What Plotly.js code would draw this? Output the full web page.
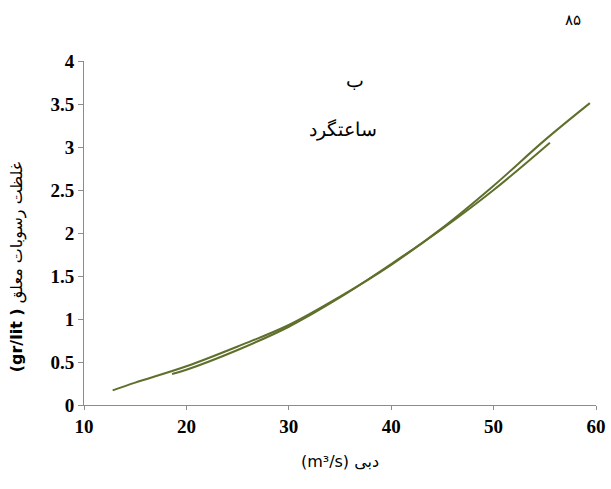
<!DOCTYPE html>
<html>
<head>
<meta charset="utf-8">
<script src="https://cdn.plot.ly/plotly-3.0.1.min.js"></script>
<style>html,body{margin:0;padding:0;background:#fff;}#chart{width:611px;height:489px;}</style>
</head>
<body>
<div id="chart"></div>
<script>
// Outer branch (longer curve)
const discharge1 = [12.8, 15, 20, 25, 30, 35, 40, 45, 50, 55, 59.4];
const sediment1  = [0.17, 0.26, 0.45, 0.68, 0.93, 1.26, 1.63, 2.06, 2.55, 3.08, 3.51];
// Inner branch (shorter curve)
const discharge2 = [18.6, 20, 25, 30, 35, 40, 45, 50, 55.5];
const sediment2  = [0.36, 0.41, 0.64, 0.91, 1.25, 1.64, 2.05, 2.50, 3.05];
const xTicks = [10, 20, 30, 40, 50, 60];
const yTicks = [0, 0.5, 1, 1.5, 2, 2.5, 3, 3.5, 4];
const yTickText = ['0', '0.5', '1', '1.5', '2', '2.5', '3', '3.5', '4'];

const lineStyle = {color: '#5f6f2c', width: 2};
const traces = [
  {x: discharge1, y: sediment1, mode: 'lines', line: Object.assign({shape: 'spline'}, lineStyle), hoverinfo: 'skip'},
  {x: discharge2, y: sediment2, mode: 'lines', line: Object.assign({shape: 'spline'}, lineStyle), hoverinfo: 'skip'}
];
const tickFont = {family: '"Liberation Serif", "Times New Roman", serif', size: 19, color: '#000', weight: 'bold'};
const layout = {
  width: 611, height: 489,
  margin: {l: 84, r: 15, t: 61, b: 84},
  paper_bgcolor: '#fff', plot_bgcolor: '#fff',
  showlegend: false,
  xaxis: {
    range: [10, 60], tickvals: xTicks, ticktext: xTicks.map(String),
    showgrid: false, zeroline: false, showline: true, linecolor: '#8c8c8c', linewidth: 1,
    ticks: 'outside', ticklen: 4, tickcolor: '#8c8c8c', tickfont: tickFont,
    title: {text: '(m³/s) دبی', font: {family: '"DejaVu Sans", sans-serif', size: 16, color: '#000'}, standoff: 20}
  },
  yaxis: {
    range: [0, 4], tickvals: yTicks, ticktext: yTickText,
    showgrid: false, zeroline: false, showline: true, linecolor: '#8c8c8c', linewidth: 1,
    ticks: 'outside', ticklen: 5, tickcolor: '#8c8c8c', tickfont: tickFont
  },
  annotations: [
    {x: -0.131, y: 0.40, xref: 'paper', yref: 'paper', xanchor: 'center', yanchor: 'middle', textangle: -90,
     text: '<b>(gr/lit )</b> غلظت رسوبات معلق', showarrow: false, font: {family: '"DejaVu Sans", sans-serif', size: 16, color: '#000'}},
    {x: 36.5, y: 3.78, xref: 'x', yref: 'y', text: 'ب', showarrow: false, font: {family: '"DejaVu Serif", serif', size: 19, color: '#000'}},
    {x: 35.3, y: 3.2, xref: 'x', yref: 'y', text: 'ساعتگرد', showarrow: false, font: {family: '"DejaVu Serif", serif', size: 19, color: '#000'}},
    {x: 0.955, y: 1.119, xref: 'paper', yref: 'paper', xanchor: 'center', yanchor: 'middle', text: '۸۵', showarrow: false, font: {family: '"DejaVu Sans", sans-serif', size: 15, color: '#000'}}
  ]
};
Plotly.newPlot('chart', traces, layout, {displayModeBar: false, staticPlot: true});
</script>
</body>
</html>
